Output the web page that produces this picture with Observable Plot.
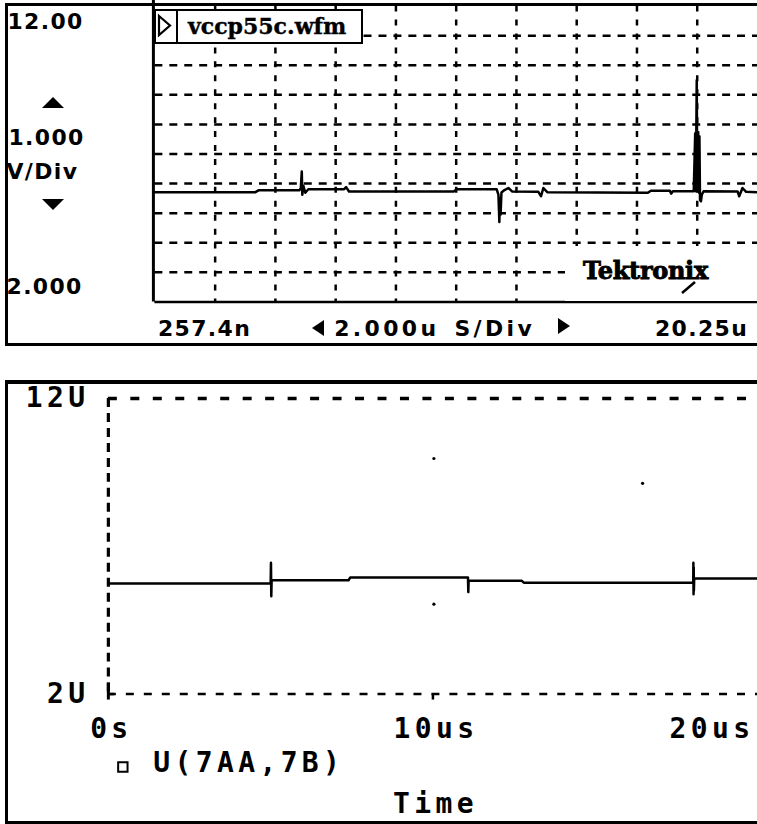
<!DOCTYPE html>
<html>
<head>
<meta charset="utf-8">
<script src="https://cdn.jsdelivr.net/npm/d3@7"></script>
<script src="https://cdn.jsdelivr.net/npm/@observablehq/plot@0.6"></script>
<style>
html, body { margin: 0; padding: 0; background: #fff; }
#page { position: relative; width: 757px; height: 824px; overflow: hidden; background: #fff; }
.abs { position: absolute; }
.scope text { letter-spacing: 1.4px; }
.sim text { letter-spacing: 4.4px; }
.panel { position: absolute; border: 3px solid #000; border-right: none; box-sizing: border-box; pointer-events: none; }
</style>
</head>
<body>
<div id="page"></div>
<script>
// ---------- Oscilloscope capture (Tektronix "vccp55c.wfm"), time in µs, volts ----------
const scopeStart = 0.2574;          // 257.4n at the left edge
const scopeTime = [0.2574, 3.596, 3.695, 5.051, 5.10, 5.133, 5.15, 5.183, 5.25, 5.35,
  6.54, 6.604, 6.70, 10.175, 10.274, 11.60, 11.66, 11.69, 11.71, 11.73,
  11.76, 11.86, 11.99, 12.12, 12.985, 13.074, 13.15, 13.28, 16.62, 16.72,
  17.35, 17.39, 17.45, 18.142, 18.19, 18.21, 18.241, 18.26, 18.29, 18.31,
  18.33, 18.35, 18.38, 18.41, 18.47, 19.60, 19.65, 19.76, 19.88, 20.2574];
const scopeVolts = [5.71, 5.71, 5.77, 5.77, 5.84, 6.41, 5.62, 5.93, 5.69, 5.81,
  5.81, 5.88, 5.73, 5.73, 5.81, 5.81, 5.62, 4.70, 5.50, 4.95,
  5.70, 5.78, 5.85, 5.73, 5.72, 5.57, 5.85, 5.71, 5.69, 5.76,
  5.76, 5.66, 5.74, 5.74, 7.70, 5.74, 9.49, 5.80, 7.74, 5.70,
  7.60, 5.45, 5.40, 5.62, 5.74, 5.73, 5.57, 5.85, 5.72, 5.71];
const scopeGridTime = [2.2574, 4.2574, 6.2574, 8.2574, 10.2574, 12.2574, 14.2574, 16.2574, 18.2574];
const scopeGridVolts = [3, 4, 5, 6, 7, 8, 9, 10, 11];
const scopeVoltLabels = ["12.00", "2.000"];
const scopeScaleLabels = ["1.000", "V/Div"];
const scopeTimeLabels = ["257.4n", "20.25u"];
const scopeTimeScale = "2.000u S/Div";
const scopeFile = "vccp55c.wfm";
const scopeBrand = "Tektronix";

// ---------- PSpice simulation, time in µs, volts ----------
const simTime = [0, 5.00, 5.01, 5.02, 5.03, 7.40, 7.45, 11.08, 11.09, 11.10,
  12.74, 12.80, 18.02, 18.025, 18.03, 18.035, 18.04, 18.05, 20];
const simVolts = [5.74, 5.74, 6.44, 5.31, 5.85, 5.85, 5.94, 5.94, 5.45, 5.83,
  5.83, 5.77, 5.77, 6.44, 5.38, 6.30, 5.50, 5.91, 5.91];
const simSpeckTime = [10.03, 16.46, 10.03];
const simSpeckVolts = [9.97, 9.13, 5.04];
const simVoltTicks = [12, 2];
const simVoltLabels = ["12U", "2U"];
const simTimeTicks = [0, 10, 20];
const simTimeLabels = ["0s", "10us", "20us"];
const simLegend = "U(7AA,7B)";
const simXLabel = "Time";

const page = document.getElementById("page");

// ================= TOP: oscilloscope =================
const scopeRows = scopeTime.map((t, i) => ({t, v: scopeVolts[i]}));
const L = 155, T = 5.6;
const tekFont = {fontFamily: "DejaVu Sans", fontWeight: "bold", fontSize: 22, fill: "black"};
const lab = (s, px, py) => Plot.text([s], {text: d => d, frameAnchor: "top-left", dx: px - L, dy: py - T,
  textAnchor: "start", lineAnchor: "bottom", ...tekFont});

const scope = Plot.plot({
  width: 760, height: 345,
  marginLeft: L, marginRight: 0, marginTop: T, marginBottom: 345 - 302.6,
  x: {domain: [scopeStart, scopeStart + 20], axis: null},
  y: {domain: [2, 12], axis: null},
  style: {background: "transparent", overflow: "visible"},
  marks: [
    Plot.ruleY(scopeGridVolts, {stroke: "black", strokeWidth: 2.5, strokeDasharray: "8,7"}),
    Plot.ruleX(scopeGridTime, {stroke: "black", strokeWidth: 2.5, strokeDasharray: "6,8"}),
    Plot.ruleY([2], {stroke: "black", strokeWidth: 2.5}),
    Plot.ruleX([scopeStart], {stroke: "black", strokeWidth: 3, dx: -1.5, insetTop: -6}),
    Plot.line(scopeRows, {x: "t", y: "v", stroke: "black", strokeWidth: 2.5}),
    lab(scopeVoltLabels[0], 7, 28.5),
    lab(scopeScaleLabels[0], 8, 145),
    lab(scopeScaleLabels[1], 6, 179),
    lab(scopeVoltLabels[1], 6, 295),
    lab(scopeTimeLabels[0], 158, 337),
    lab(scopeTimeScale, 335, 337),
    lab(scopeTimeLabels[1], 657, 337)
  ]
});
d3.select(scope).selectAll("text").each(function () {
  if (this.textContent === scopeTimeScale) { this.style.letterSpacing = "3.4px"; this.style.wordSpacing = "4px"; }
});
const topWrap = document.createElement("div");
topWrap.className = "abs scope";
Object.assign(topWrap.style, {left: "0px", top: "0px", width: "757px", height: "346px", overflow: "hidden"});
topWrap.appendChild(scope);
page.appendChild(topWrap);

// file-name box
const fileBox = document.createElement("div");
fileBox.className = "abs";
Object.assign(fileBox.style, {left: "154px", top: "9px", width: "209px", height: "35px",
  border: "2.5px solid #000", boxSizing: "border-box", background: "#fff"});
fileBox.innerHTML =
  `<svg width="22" height="30" style="position:absolute;left:0;top:0">
     <polygon points="3,5 14,14.5 3,24" fill="none" stroke="#000" stroke-width="2.2"/></svg>
   <div style="position:absolute;left:20px;top:0;bottom:0;border-left:2.5px solid #000"></div>
   <svg width="190" height="32" style="position:absolute;left:22px;top:0">
     <text x="10" y="23" font-family="DejaVu Serif" font-weight="bold" font-size="22" stroke="#000" stroke-width="0.4">${scopeFile}</text></svg>`;
page.appendChild(fileBox);

// brand logo
const logo = document.createElement("div");
logo.className = "abs";
Object.assign(logo.style, {left: "565px", top: "246px", width: "195px", height: "55px", background: "#fff"});
logo.innerHTML =
  `<svg width="195" height="55">
     <text x="18" y="33" font-family="DejaVu Serif" font-weight="bold" font-size="24" letter-spacing="-0.3" stroke="#000" stroke-width="0.9">${scopeBrand}</text>
     <line x1="130" y1="36" x2="117" y2="47" stroke="#000" stroke-width="2.5"/></svg>`;
page.appendChild(logo);

// scale arrows
function tri(left, top, dir, w, h) {
  const d = document.createElement("div");
  d.className = "abs";
  const s = {left: left + "px", top: top + "px", width: 0, height: 0};
  if (dir === "up") Object.assign(s, {borderLeft: `${w/2}px solid transparent`, borderRight: `${w/2}px solid transparent`, borderBottom: `${h}px solid #000`});
  if (dir === "down") Object.assign(s, {borderLeft: `${w/2}px solid transparent`, borderRight: `${w/2}px solid transparent`, borderTop: `${h}px solid #000`});
  if (dir === "left") Object.assign(s, {borderTop: `${h/2}px solid transparent`, borderBottom: `${h/2}px solid transparent`, borderRight: `${w}px solid #000`});
  if (dir === "right") Object.assign(s, {borderTop: `${h/2}px solid transparent`, borderBottom: `${h/2}px solid transparent`, borderLeft: `${w}px solid #000`});
  Object.assign(d.style, s);
  page.appendChild(d);
}
tri(42, 97, "up", 23, 11);
tri(42, 199, "down", 23, 11);
tri(312, 320, "left", 12, 17);
tri(558, 318, "right", 12, 16);

// top panel border
const p1 = document.createElement("div");
p1.className = "panel";
Object.assign(p1.style, {left: "5px", top: "3px", width: "760px", height: "343px"});
page.appendChild(p1);

// ================= BOTTOM: PSpice =================
const simRows = simTime.map((t, i) => ({t, v: simVolts[i]}));
const specks = simSpeckTime.map((t, i) => ({t, v: simSpeckVolts[i]}));
const yLab = simVoltTicks.map((v, i) => ({v, label: simVoltLabels[i]}));
const xLab = simTimeTicks.map((t, i) => ({t, label: simTimeLabels[i]}));
const psFont = {fontFamily: "DejaVu Sans Mono", fontWeight: "bold", fontSize: 28, fill: "black"};

const sim = Plot.plot({
  width: 758, height: 443,
  marginLeft: 108, marginRight: 0, marginTop: 17, marginBottom: 130,
  x: {domain: [0, 20], axis: null},
  y: {domain: [2, 12], axis: null},
  style: {background: "transparent", overflow: "visible"},
  marks: [
    Plot.ruleY([12], {stroke: "black", strokeWidth: 3.5, strokeDasharray: "9,13.5"}),
    Plot.ruleY([2], {stroke: "black", strokeWidth: 2.5, strokeDasharray: "8,10"}),
    Plot.ruleX([0], {stroke: "black", strokeWidth: 3.2, strokeDasharray: "9,6"}),
    Plot.ruleX([0], {y1: 2, y2: 2, insetTop: -11, insetBottom: -6, stroke: "black", strokeWidth: 3}),
    Plot.ruleY([2], {x1: 0, x2: 0, insetRight: -6, stroke: "black", strokeWidth: 2.5}),
    Plot.ruleX([10], {y1: 2, y2: 2, insetBottom: -6, stroke: "black", strokeWidth: 2.5}),
    Plot.line(simRows, {x: "t", y: "v", stroke: "black", strokeWidth: 2.5}),
    Plot.dot(specks, {x: "t", y: "v", r: 1.6, fill: "black", stroke: null}),
    Plot.text(yLab, {y: "v", text: "label", frameAnchor: "left", textAnchor: "end", dx: -19, lineAnchor: "middle", ...psFont}),
    Plot.text(xLab.slice(0, 2), {x: "t", text: "label", frameAnchor: "bottom", textAnchor: "middle", dx: 3, dy: 43.5, lineAnchor: "bottom", ...psFont}),
    Plot.text(xLab.slice(2), {x: "t", text: "label", frameAnchor: "bottom", textAnchor: "end", dx: -3, dy: 43.5, lineAnchor: "bottom", ...psFont}),
    Plot.dot([simLegend], {frameAnchor: "bottom-left", symbol: "square", r: 5.3, dx: 14.5, dy: 73, stroke: "black", strokeWidth: 2, fill: "white"}),
    Plot.text([simLegend], {text: d => d, frameAnchor: "bottom-left", dx: 45, dy: 78, textAnchor: "start", lineAnchor: "bottom", ...psFont}),
    Plot.text([simXLabel], {text: d => d, frameAnchor: "bottom-left", dx: 393 - 108, dy: 119, textAnchor: "start", lineAnchor: "bottom", ...psFont})
  ]
});
const botWrap = document.createElement("div");
botWrap.className = "abs sim";
Object.assign(botWrap.style, {left: "0px", top: "381px", width: "757px", height: "443px", overflow: "hidden"});
botWrap.appendChild(sim);
page.appendChild(botWrap);

const p2 = document.createElement("div");
p2.className = "panel";
Object.assign(p2.style, {left: "5px", top: "380px", width: "760px", height: "444px", borderTopWidth: "4px"});
page.appendChild(p2);
</script>
</body>
</html>
